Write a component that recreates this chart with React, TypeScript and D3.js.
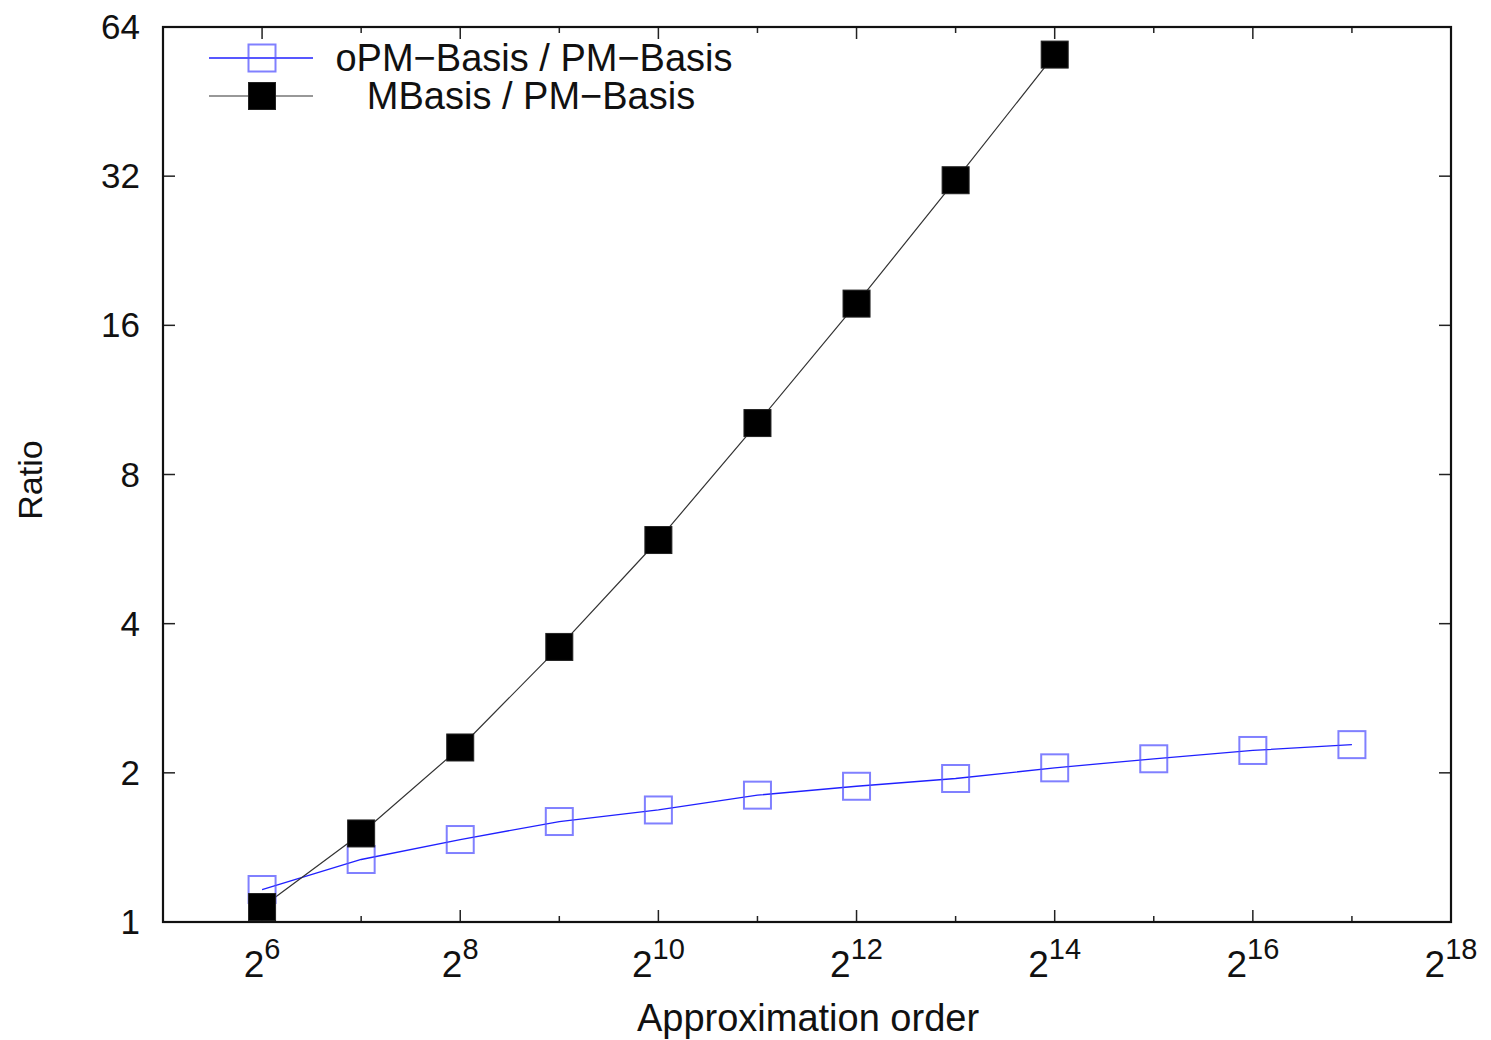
import React from 'react';
import * as d3 from 'd3';

// exponents n of the approximation order 2^n
const mbasisOrders = [6, 7, 8, 9, 10, 11, 12, 13, 14];
const mbasisRatio = [1.072, 1.509, 2.25, 3.59, 5.9, 10.16, 17.7, 31.4, 56.3];

const opmOrders = [6, 7, 8, 9, 10, 11, 12, 13, 14, 15, 16, 17];
const opmRatio = [1.163, 1.337, 1.467, 1.595, 1.683, 1.803, 1.879, 1.948, 2.047, 2.135, 2.219, 2.28];

const xTicks = [6, 7, 8, 9, 10, 11, 12, 13, 14, 15, 16, 17, 18];
const yTicks = [1, 2, 4, 8, 16, 32, 64];

const W = 1491;
const H = 1040;
const M = { top: 27, right: 40, bottom: 118, left: 163 };
const FONT = '"Liberation Sans", Arial, sans-serif';

const App = () => {
  const innerW = W - M.left - M.right;
  const innerH = H - M.top - M.bottom;

  const x = d3.scaleLinear().domain([5, 18]).range([0, innerW]);
  const y = d3.scaleLog().base(2).domain([1, 64]).range([innerH, 0]);

  const lineGen = d3
    .line<[number, number]>()
    .x((d) => x(d[0]))
    .y((d) => y(d[1]));

  const opmPts = opmOrders.map((o, i) => [o, opmRatio[i]] as [number, number]);
  const mbPts = mbasisOrders.map((o, i) => [o, mbasisRatio[i]] as [number, number]);

  const S = 27; // marker size

  return (
    <svg width={W} height={H} style={{ position: 'absolute', left: 0, top: 0, background: '#fff' }} fontFamily={FONT}>
      <g transform={`translate(${M.left},${M.top})`}>
        {/* x ticks, bottom and top */}
        {xTicks.map((t) => {
          const len = t % 2 === 0 ? 12 : 6;
          return (
            <g key={`xt${t}`} stroke="#222" strokeWidth={1.5}>
              <line x1={x(t)} x2={x(t)} y1={innerH} y2={innerH - len} />
              <line x1={x(t)} x2={x(t)} y1={0} y2={len} />
            </g>
          );
        })}
        {xTicks
          .filter((t) => t % 2 === 0)
          .map((t) => (
            <text key={`xl${t}`} x={x(t)} y={innerH + 55} textAnchor="middle" fontSize={37} fill="#111">
              2<tspan dy={-18} fontSize={29}>{t}</tspan>
            </text>
          ))}
        {/* y ticks, left and right */}
        {yTicks.map((t) => (
          <g key={`yt${t}`}>
            <line x1={0} x2={12} y1={y(t)} y2={y(t)} stroke="#222" strokeWidth={1.5} />
            <line x1={innerW - 12} x2={innerW} y1={y(t)} y2={y(t)} stroke="#222" strokeWidth={1.5} />
            <text x={-23} y={y(t) + 12} textAnchor="end" fontSize={35} fill="#111">
              {t}
            </text>
          </g>
        ))}

        {/* series lines */}
        <path d={lineGen(opmPts) || ''} fill="none" stroke="#2020ff" strokeWidth={1.3} />
        <path d={lineGen(mbPts) || ''} fill="none" stroke="#333" strokeWidth={1.2} />

        {/* markers */}
        {opmPts.map((p, i) => (
          <rect
            key={`o${i}`}
            x={x(p[0]) - S / 2}
            y={y(p[1]) - S / 2}
            width={S}
            height={S}
            fill="none"
            stroke="#5555ff"
            strokeOpacity={0.75}
            strokeWidth={2}
          />
        ))}
        {mbPts.map((p, i) => (
          <rect
            key={`m${i}`}
            x={x(p[0]) - S / 2}
            y={y(p[1]) - S / 2}
            width={S}
            height={S}
            fill="#000"
            stroke="#222"
            strokeWidth={1}
          />
        ))}

        {/* frame */}
        <rect x={0} y={0} width={innerW} height={innerH} fill="none" stroke="#111" strokeWidth={2.2} />

        {/* legend */}
        <g>
          <line x1={209 - M.left} x2={313 - M.left} y1={58 - M.top} y2={58 - M.top} stroke="#2020ff" strokeWidth={1.3} />
          <rect x={262 - M.left - S / 2} y={58 - M.top - S / 2} width={S} height={S} fill="none" stroke="#5555ff" strokeOpacity={0.75} strokeWidth={2} />
          <text x={534 - M.left} y={58 - M.top + 13} textAnchor="middle" fontSize={38} fill="#111">
            oPM−Basis / PM−Basis
          </text>
          <line x1={209 - M.left} x2={313 - M.left} y1={96 - M.top} y2={96 - M.top} stroke="#333" strokeWidth={1.2} />
          <rect x={262 - M.left - S / 2} y={96 - M.top - S / 2} width={S} height={S} fill="#000" stroke="#222" strokeWidth={1} />
          <text x={531 - M.left} y={96 - M.top + 13} textAnchor="middle" fontSize={38} fill="#111">
            MBasis / PM−Basis
          </text>
        </g>
      </g>

      {/* axis titles */}
      <text x={808} y={1031} textAnchor="middle" fontSize={38} fill="#111">
        Approximation order
      </text>
      <text transform="translate(42,480) rotate(-90)" textAnchor="middle" fontSize={34} fill="#111">
        Ratio
      </text>
    </svg>
  );
};

export default App;
